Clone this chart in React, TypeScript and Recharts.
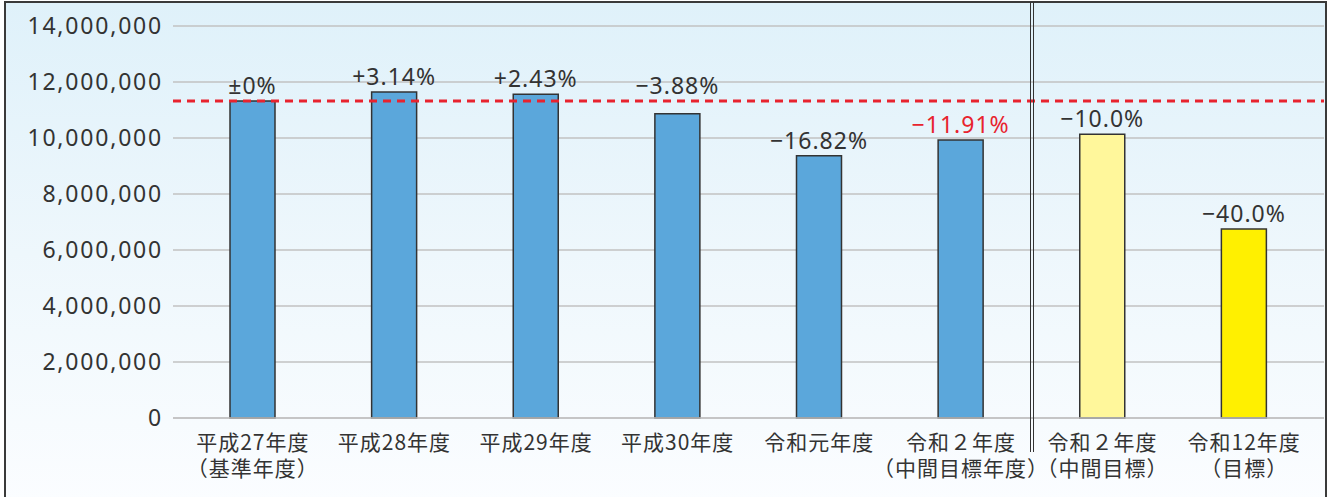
import React from 'react';
import {
    BarChart,
    Bar,
    XAxis,
    YAxis,
    CartesianGrid,
    ReferenceLine,
    LabelList,
    Cell
} from 'recharts';

// categories (two-line labels)
const categories = ['平成27年度', '平成28年度', '平成29年度', '平成30年度', '令和元年度', '令和２年度', '令和２年度', '令和12年度'];
const subLabels = ['（基準年度）', '', '', '', '', '（中間目標年度）', '（中間目標）', '（目標）'];

// emissions values
const values = [11325000, 11640000, 11560000, 10870000, 9370000, 9930000, 10130000, 6750000];

// change vs base year
const changeLabels = ['±0%', '+3.14%', '+2.43%', '−3.88%', '−16.82%', '−11.91%', '−10.0%', '−40.0%'];

const yTicks = [0, 2000000, 4000000, 6000000, 8000000, 10000000, 12000000, 14000000];

const FONT = '"Noto Sans", "Noto Sans CJK JP", sans-serif';
const JP_FONT = '"Noto Sans CJK JP", sans-serif';
const TEXT = '#333333';
const BAR_FILLS = ['#5ba7db', '#5ba7db', '#5ba7db', '#5ba7db', '#5ba7db', '#5ba7db', '#fff79b', '#fff000'];
const LABEL_COLORS = [TEXT, TEXT, TEXT, TEXT, TEXT, '#e8232e', TEXT, TEXT];
// the 平成30年度 label is lifted above the dashed base line
const LABEL_LIFT = [7, 7, 7, 20, 7, 7, 7, 7];

const data = categories.map((c, i) => ({
    name: c + subLabels[i] + i,
    value: values[i],
}));

const CategoryTick = (props: any) => {
    const { x, y, index } = props;
    return (
        <text x={x} y={y + 24} textAnchor="middle" fill={TEXT} fontSize={21} fontFamily={JP_FONT} letterSpacing={1}>
            <tspan x={x}>{categories[index]}</tspan>
            {subLabels[index] && (
                <tspan x={x} dy={26}>{subLabels[index]}</tspan>
            )}
        </text>
    );
};

const ChangeLabel = (props: any) => {
    const { x, y, width, index } = props;
    return (
        <text
            x={x + width / 2}
            y={y - LABEL_LIFT[index]}
            textAnchor="middle"
            fill={LABEL_COLORS[index]}
            fontSize={23}
            fontFamily={FONT}
            letterSpacing={1}
        >
            {changeLabels[index]}
        </text>
    );
};

export default function App() {
    return (
        <div style={{ position: 'absolute', left: 0, top: 0, width: 1330, height: 497, overflow: 'hidden' }}>
            {/* frame + background */}
            <div
                style={{
                    position: 'absolute',
                    left: 4,
                    top: 1,
                    width: 1319,
                    height: 500,
                    border: '2px solid #3a3a3a',
                    background: 'linear-gradient(to bottom, #dff1fa 0%, #eef7fc 50%, #fbfdff 100%)',
                }}
            />
            <div style={{ position: 'absolute', left: 0, top: 0 }}>
                <BarChart
                    width={1330}
                    height={497}
                    data={data}
                    margin={{ top: 26, right: 6, bottom: 0, left: 0 }}
                >
                    <CartesianGrid vertical={false} stroke="#c2c2c2" strokeWidth={1.5} />
                    <XAxis
                        dataKey="name"
                        height={79}
                        axisLine={{ stroke: '#c2c2c2', strokeWidth: 1.5 }}
                        tickLine={false}
                        interval={0}
                        padding={{ left: 9, right: 9 }}
                        tick={<CategoryTick />}
                    />
                    <YAxis
                        width={173}
                        domain={[0, 14000000]}
                        ticks={yTicks}
                        axisLine={false}
                        tickLine={false}
                        tickMargin={4}
                        tickFormatter={(v: number) => v.toLocaleString('en-US')}
                        tick={{ fill: TEXT, fontSize: 23, fontFamily: FONT, letterSpacing: 1.8 }}
                    />
                    <Bar dataKey="value" barSize={45} stroke="#333333" strokeWidth={1.5} isAnimationActive={false}>
                        {data.map((d, i) => (
                            <Cell key={`cell-${i}`} fill={BAR_FILLS[i]} />
                        ))}
                        <LabelList dataKey="value" content={<ChangeLabel />} />
                    </Bar>
                    <ReferenceLine y={values[0]} stroke="#e8232e" strokeWidth={3} strokeDasharray="8 6" />
                </BarChart>
            </div>
            {/* double divider between actual and target years */}
            <div
                style={{
                    position: 'absolute',
                    left: 1030,
                    top: 2,
                    width: 2,
                    height: 450,
                    borderLeft: '1.5px solid #333',
                    borderRight: '1.5px solid #333',
                }}
            />
        </div>
    );
}
